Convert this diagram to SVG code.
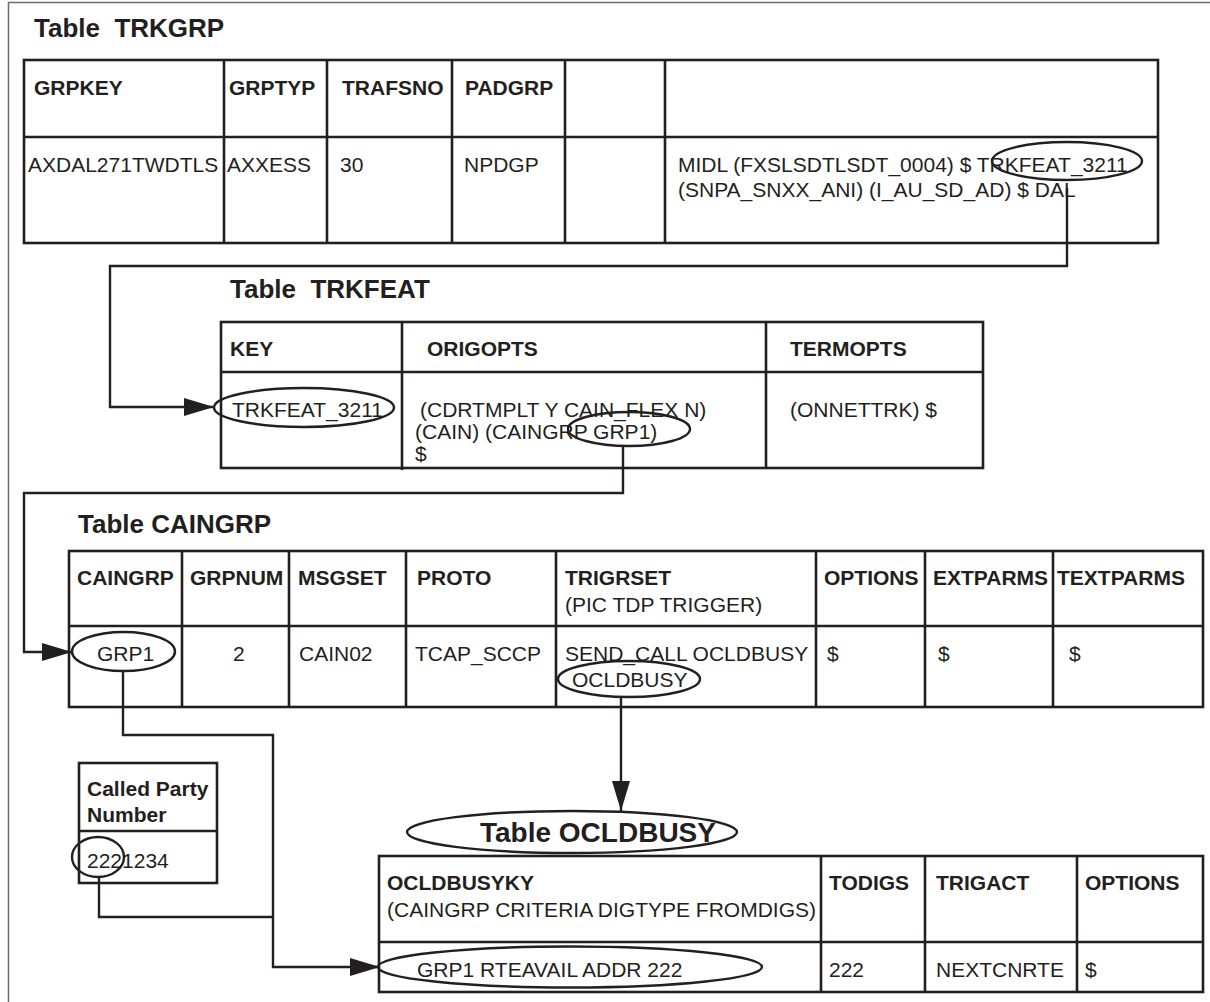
<svg xmlns="http://www.w3.org/2000/svg" width="1210" height="1002" viewBox="0 0 1210 1002">
  <style>
    text { font-family: "Liberation Sans", Arial, Helvetica, sans-serif; fill: #231f20; }
    .title { font-size: 26px; font-weight: bold; }
    .title28 { font-size: 28px; font-weight: bold; }
    .hd { font-size: 21px; font-weight: bold; }
    .tx { font-size: 21px; }
    .grid { fill: none; stroke: #231f20; stroke-width: 2.6; }
    .oval { fill: none; stroke: #231f20; stroke-width: 2.4; }
    .wire { fill: none; stroke: #231f20; stroke-width: 2.4; }
  </style>
  <defs>
    <marker id="head" viewBox="0 0 30 18" refX="30" refY="9" markerWidth="30" markerHeight="18" markerUnits="userSpaceOnUse" orient="auto">
      <path d="M0,0 L30,9 L0,18 Z" fill="#231f20"/>
    </marker>
  </defs>

  <rect width="1210" height="1002" fill="#ffffff"/>
  <!-- page frame -->
  <rect x="8.5" y="2.5" width="1215" height="1015" fill="none" stroke="#6d6d6d" stroke-width="1.5"/>

  <!-- Table TRKGRP -->
  <g id="trkgrp">
    <text class="title" x="34" y="37" xml:space="preserve">Table  TRKGRP</text>
    <rect class="grid" x="24" y="60" width="1134" height="183"/>
    <path class="grid" d="M24,137 H1158 M224,60 V243 M327,60 V243 M452,60 V243 M565,60 V243 M665,60 V243"/>
    <text class="hd" x="34" y="95">GRPKEY</text>
    <text class="hd" x="229" y="95">GRPTYP</text>
    <text class="hd" x="342" y="95">TRAFSNO</text>
    <text class="hd" x="465" y="95">PADGRP</text>
    <text class="tx" x="28" y="172">AXDAL271TWDTLS</text>
    <text class="tx" x="227" y="172">AXXESS</text>
    <text class="tx" x="340" y="172">30</text>
    <text class="tx" x="464" y="172">NPDGP</text>
    <text class="tx" x="678" y="172">MIDL (FXSLSDTLSDT_0004) $ TRKFEAT_3211</text>
    <text class="tx" x="678" y="197">(SNPA_SNXX_ANI) (I_AU_SD_AD) $ DAL</text>
    <ellipse class="oval" cx="1067" cy="161" rx="75" ry="19"/>
  </g>

  <!-- Table TRKFEAT -->
  <g id="trkfeat">
    <text class="title" x="230" y="298" xml:space="preserve">Table  TRKFEAT</text>
    <rect class="grid" x="221" y="322" width="762" height="146"/>
    <path class="grid" d="M221,372 H983 M402,322 V470 M766,322 V468"/>
    <text class="hd" x="230" y="356">KEY</text>
    <text class="hd" x="427" y="356">ORIGOPTS</text>
    <text class="hd" x="790" y="356">TERMOPTS</text>
    <text class="tx" x="232" y="417">TRKFEAT_3211</text>
    <ellipse class="oval" cx="304" cy="407.5" rx="90" ry="19.5"/>
    <text class="tx" x="420" y="417">(CDRTMPLT Y CAIN_FLEX N)</text>
    <text class="tx" x="415" y="439">(CAIN) (CAINGRP GRP1)</text>
    <text class="tx" x="415" y="461">$</text>
    <ellipse class="oval" cx="629" cy="429" rx="61" ry="17"/>
    <text class="tx" x="790" y="417">(ONNETTRK) $</text>
  </g>

  <!-- Table CAINGRP -->
  <g id="caingrp">
    <text class="title" x="78" y="533">Table CAINGRP</text>
    <rect class="grid" x="69" y="551" width="1134" height="156"/>
    <path class="grid" d="M69,626 H1203 M182,551 V707 M289,551 V707 M406,551 V707 M556,551 V707 M816,551 V707 M925,551 V707 M1053,551 V707"/>
    <text class="hd" x="77" y="585">CAINGRP</text>
    <text class="hd" x="190" y="585">GRPNUM</text>
    <text class="hd" x="298" y="585">MSGSET</text>
    <text class="hd" x="417" y="585">PROTO</text>
    <text class="hd" x="565" y="585">TRIGRSET</text>
    <text class="tx" x="565" y="612">(PIC TDP TRIGGER)</text>
    <text class="hd" x="824" y="585">OPTIONS</text>
    <text class="hd" x="933" y="585">EXTPARMS</text>
    <text class="hd" x="1057" y="585">TEXTPARMS</text>
    <text class="tx" x="97" y="661">GRP1</text>
    <ellipse class="oval" cx="123.5" cy="651.5" rx="51.5" ry="19.5"/>
    <text class="tx" x="233" y="661">2</text>
    <text class="tx" x="299" y="661">CAIN02</text>
    <text class="tx" x="415" y="661">TCAP_SCCP</text>
    <text class="tx" x="565" y="661">SEND_CALL OCLDBUSY</text>
    <text class="tx" x="572" y="687">OCLDBUSY</text>
    <ellipse class="oval" cx="629" cy="679" rx="71" ry="18"/>
    <text class="tx" x="827" y="661">$</text>
    <text class="tx" x="938" y="661">$</text>
    <text class="tx" x="1069" y="661">$</text>
  </g>

  <!-- Called Party Number -->
  <g id="called-party">
    <rect class="grid" x="79" y="763" width="138" height="120"/>
    <path class="grid" d="M79,831 H217"/>
    <text class="hd" x="87" y="796">Called Party</text>
    <text class="hd" x="87" y="822">Number</text>
    <text class="tx" x="87" y="868">2221234</text>
    <ellipse class="oval" cx="98" cy="857" rx="26" ry="20"/>
  </g>

  <!-- Table OCLDBUSY -->
  <g id="ocldbusy">
    <ellipse class="oval" cx="572" cy="832" rx="165" ry="21"/>
    <text class="title28" x="480" y="842">Table OCLDBUSY</text>
    <rect class="grid" x="379" y="856" width="824" height="136"/>
    <path class="grid" d="M379,942 H1203 M821,856 V992 M925,856 V992 M1077,856 V992"/>
    <text class="hd" x="387" y="890">OCLDBUSYKY</text>
    <text class="tx" x="387" y="917">(CAINGRP CRITERIA DIGTYPE FROMDIGS)</text>
    <text class="hd" x="829" y="890">TODIGS</text>
    <text class="hd" x="936" y="890">TRIGACT</text>
    <text class="hd" x="1085" y="890">OPTIONS</text>
    <text class="tx" x="417" y="977">GRP1 RTEAVAIL ADDR 222</text>
    <ellipse class="oval" cx="570" cy="967" rx="192" ry="20.5"/>
    <text class="tx" x="829" y="977">222</text>
    <text class="tx" x="936" y="977">NEXTCNRTE</text>
    <text class="tx" x="1085" y="977">$</text>
  </g>

  <!-- connectors -->
  <g id="connectors">
    <path class="wire" d="M1067,188 V266 H110 V407 H214" marker-end="url(#head)"/>
    <path class="wire" d="M623,446 V493 H24 V652 H72" marker-end="url(#head)"/>
    <path class="wire" d="M123,671 V735 H273 V967 H380" marker-end="url(#head)"/>
    <path class="wire" d="M99,877 V917 H273"/>
    <path class="wire" d="M621,697 V811" marker-end="url(#head)"/>
  </g>
</svg>
